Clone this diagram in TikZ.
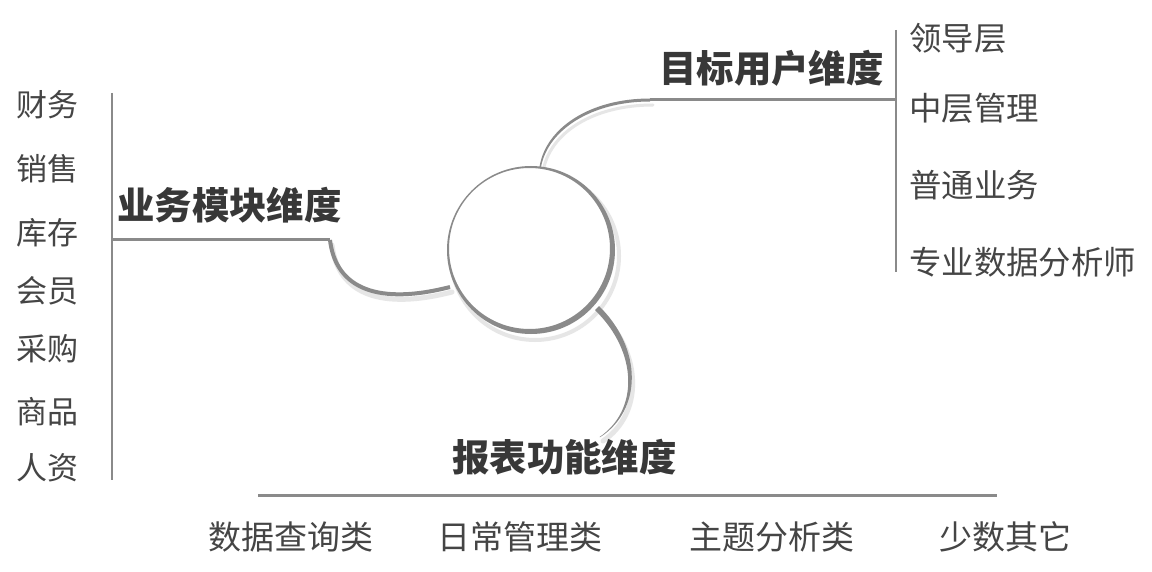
\documentclass[tikz,border=0pt]{standalone}
\usepackage{fontspec}
\newfontfamily\cjk{Noto Sans CJK SC}
\definecolor{linegray}{HTML}{8A8A8A}
\definecolor{shadowgray}{HTML}{E6E6E6}
\definecolor{txt}{HTML}{454545}
\definecolor{ttl}{HTML}{383838}
\begin{document}
\begin{tikzpicture}[x=1pt,y=-1pt,
  item/.style={anchor=west,inner sep=0,text=txt,font=\cjk\fontsize{31}{31}\selectfont},
  ritem/.style={anchor=west,inner sep=0,text=txt,font=\cjk\fontsize{32.4}{32.4}\selectfont},
  bitem/.style={anchor=west,inner sep=0,text=txt,font=\cjk\fontsize{33}{33}\selectfont},
  ttlnode/.style={anchor=west,inner sep=0,text=ttl,font=\cjk\bfseries\fontsize{37.4}{37.4}\selectfont},
  bar/.style={draw=linegray,line width=2.2pt},
  hline/.style={draw=linegray,line width=3pt},
  conn/.style={draw=linegray,line width=4pt},
  shade/.style={draw=shadowgray,line width=5pt,line cap=round}]
\useasboundingbox (0,0) rectangle (1152,572);
\fill[white] (0,0) rectangle (1152,572);

% centre circle
\node[circle,minimum size=168pt,inner sep=0,draw=none] (c) at (531,250) {};

% named connector end points
\coordinate (tlA) at (540,167);
\coordinate (tlB) at (650,100);
\coordinate (trE) at (896,100);
\coordinate (lA) at (450,287);
\coordinate (lB) at (330,240);
\coordinate (lE) at (113,240);
\coordinate (bA) at (597,308);
\coordinate (bB) at (600,437);

% shadows
\draw[shade] ([shift={(2,5)}]lB) .. controls (338,295) and (382,310) .. ([shift={(2,5)}]lA);
\draw[shade] ([shift={(3,4)}]bA) .. controls (643,354) and (643,414) .. ([shift={(3,4)}]bB);
\draw[shade,line width=3pt] ([shift={(3,5)}]tlA) .. controls (549,133) and (593,105) .. ([shift={(3,5)}]tlB);
\draw[shadowgray,line width=4pt] (535,256) circle[radius=84];
\fill[white] (c.center) circle[radius=82];

% circle with varying stroke
\fill[linegray,even odd rule] (c.center) circle[radius=84] (529.5,248.5) circle[radius=80.5];

% top-right connector (tapered)
\fill[linegray] (539.5,167) .. controls (545.5,128) and (590,98.5) .. (650,98.5)
  -- (650,101.5) .. controls (592,101.5) and (548,129.5) .. (541,167) -- cycle;
\draw[hline] (tlB) -- (trE);

% left connector
\draw[conn] (lB) .. controls (336,290) and (380,305) .. (lA);
\draw[hline] (lB) -- (lE);

% bottom connector (tapered)
\fill[linegray] (595,310) .. controls (638,352) and (639,410) .. (599.6,437)
  -- (600.4,437) .. controls (642,410) and (643,349) .. (599,306) -- cycle;

% bars
\draw[bar] (112,93) -- (112,480);
\draw[bar] (896,30) -- (896,272);
\draw[hline] (258,495) -- (997,495);

% titles
\node[ttlnode] (tLeft) at (117,205) {业务模块维度};
\node[ttlnode] (tTop) at (659,68) {目标用户维度};
\node[ttlnode] (tBot) at (452,457) {报表功能维度};

% left list
\node[item] (l1) at (16,105) {财务};
\node[item] (l2) at (16,169) {销售};
\node[item] (l3) at (16,233) {库存};
\node[item] (l4) at (16,291) {会员};
\node[item] (l5) at (16,349) {采购};
\node[item] (l6) at (16,412) {商品};
\node[item] (l7) at (16,468) {人资};

% right list
\node[ritem] (r1) at (909,38) {领导层};
\node[ritem] (r2) at (909,108) {中层管理};
\node[ritem] (r3) at (909,185) {普通业务};
\node[ritem] (r4) at (909,262) {专业数据分析师};

% bottom list
\node[bitem] (b1) at (208,537) {数据查询类};
\node[bitem] (b2) at (437,537) {日常管理类};
\node[bitem] (b3) at (689,537) {主题分析类};
\node[bitem] (b4) at (939,537) {少数其它};
\end{tikzpicture}
\end{document}
